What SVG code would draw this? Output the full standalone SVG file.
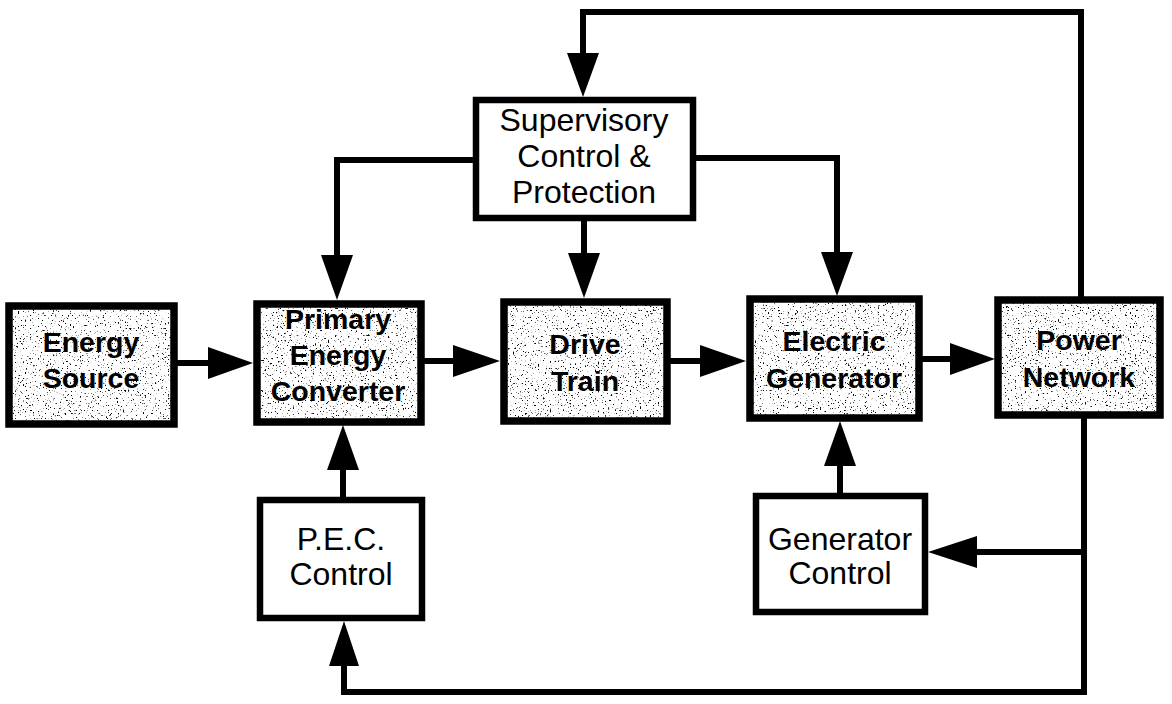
<svg xmlns="http://www.w3.org/2000/svg" width="1172" height="704" viewBox="0 0 1172 704">
  <style>
    .box { fill: #ffffff; stroke: #000; stroke-width: 6.5; }
    .shaded { stroke: #000; stroke-width: 7.5; fill: none; }
    .tex { fill: #ffffff; filter: url(#speckle); }
    .lbl { font-family: "Liberation Sans", Arial, sans-serif; font-size: 32px; fill: #000; text-anchor: middle; }
    .lblb { font-family: "Liberation Sans", Arial, sans-serif; font-size: 28.5px; font-weight: bold; fill: #000; text-anchor: middle; }
    .wire { fill: none; stroke: #000; stroke-width: 6; stroke-linejoin: miter; stroke-linecap: square; }
    .head { fill: #000; stroke: none; }
  </style>
  <defs>
    <filter id="speckle" x="0" y="0" width="100%" height="100%" color-interpolation-filters="sRGB">
      <feTurbulence type="fractalNoise" baseFrequency="0.6" numOctaves="2" seed="7" result="n"/>
      <feColorMatrix in="n" type="matrix" values="0 0 0 0 0  0 0 0 0 0  0 0 0 0 0  10 0 0 0 -6.4" result="dots"/>
      <feFlood flood-color="#ffffff" result="w"/>
      <feComposite in="dots" in2="w" operator="over" result="mix"/>
      <feComposite in="mix" in2="SourceGraphic" operator="in"/>
    </filter>
  </defs>
  <rect width="1172" height="704" fill="#ffffff"/>

  <g id="connectors">
    <!-- Energy Source -> PEC -->
    <line class="wire" x1="178" y1="363" x2="210" y2="363"/>
    <polygon class="head" points="208,347 253,363 208,379"/>
    <!-- PEC -> Drive Train -->
    <line class="wire" x1="425" y1="361" x2="455" y2="361"/>
    <polygon class="head" points="453,345 500,361 453,377"/>
    <!-- Drive Train -> Electric Generator -->
    <line class="wire" x1="670" y1="361" x2="702" y2="361"/>
    <polygon class="head" points="700,345 746,361 700,377"/>
    <!-- Electric Generator -> Power Network -->
    <line class="wire" x1="922" y1="359" x2="952" y2="359"/>
    <polygon class="head" points="950,343 995,359 950,375"/>
    <!-- Supervisory -> PEC -->
    <polyline class="wire" points="473,160 337,160 337,257"/>
    <polygon class="head" points="321,255 337,300 353,255"/>
    <!-- Supervisory -> Drive Train -->
    <line class="wire" x1="584" y1="221" x2="584" y2="255"/>
    <polygon class="head" points="568,253 584,298 600,253"/>
    <!-- Supervisory -> Electric Generator -->
    <polyline class="wire" points="696,158 837,158 837,254"/>
    <polygon class="head" points="821,252 837,296 853,252"/>
    <!-- Power Network -> Supervisory (top feedback) -->
    <polyline class="wire" points="1081,296 1081,12 583,12 583,55"/>
    <polygon class="head" points="567,53 583,97 599,53"/>
    <!-- Power Network -> PEC Control (bottom feedback) -->
    <polyline class="wire" points="1084,418 1084,692 344,692 344,666"/>
    <polygon class="head" points="329,666 344,621 359,666"/>
    <!-- Branch -> Generator Control -->
    <line class="wire" x1="1084" y1="552" x2="975" y2="552"/>
    <polygon class="head" points="977,536 928,552 977,568"/>
    <!-- Generator Control -> Electric Generator -->
    <line class="wire" x1="840" y1="493" x2="840" y2="464"/>
    <polygon class="head" points="824,466 840,421 856,466"/>
    <!-- PEC Control -> PEC -->
    <line class="wire" x1="343" y1="497" x2="343" y2="468"/>
    <polygon class="head" points="327,470 343,425 359,470"/>
  </g>

  <g id="energy-source">
    <rect class="tex" x="9" y="306" width="165" height="118"/>
    <rect class="shaded" x="9" y="306" width="165" height="118"/>
    <text class="lblb" x="91" y="352">Energy</text>
    <text class="lblb" x="91" y="388">Source</text>
  </g>

  <g id="primary-energy-converter">
    <rect class="tex" x="257" y="304" width="164" height="118"/>
    <rect class="shaded" x="257" y="304" width="164" height="118"/>
    <text class="lblb" x="338" y="329">Primary</text>
    <text class="lblb" x="338" y="365">Energy</text>
    <text class="lblb" x="338" y="401">Converter</text>
  </g>

  <g id="drive-train">
    <rect class="tex" x="504" y="302" width="163" height="119"/>
    <rect class="shaded" x="504" y="302" width="163" height="119"/>
    <text class="lblb" x="585" y="354">Drive</text>
    <text class="lblb" x="585" y="391">Train</text>
  </g>

  <g id="electric-generator">
    <rect class="tex" x="750" y="299" width="169" height="119"/>
    <rect class="shaded" x="750" y="299" width="169" height="119"/>
    <text class="lblb" x="834" y="351">Electric</text>
    <text class="lblb" x="834" y="388">Generator</text>
  </g>

  <g id="power-network">
    <rect class="tex" x="998" y="300" width="162" height="115"/>
    <rect class="shaded" x="998" y="300" width="162" height="115"/>
    <text class="lblb" x="1079" y="350">Power</text>
    <text class="lblb" x="1079" y="387">Network</text>
  </g>

  <g id="supervisory-control">
    <rect class="box" x="476" y="100" width="217" height="118"/>
    <text class="lbl" x="584" y="131">Supervisory</text>
    <text class="lbl" x="584" y="167">Control &amp;</text>
    <text class="lbl" x="584" y="203">Protection</text>
  </g>

  <g id="pec-control">
    <rect class="box" x="260" y="500" width="162" height="118"/>
    <text class="lbl" x="341" y="550">P.E.C.</text>
    <text class="lbl" x="341" y="585">Control</text>
  </g>

  <g id="generator-control">
    <rect class="box" x="756" y="496" width="169" height="116"/>
    <text class="lbl" x="840" y="550">Generator</text>
    <text class="lbl" x="840" y="584">Control</text>
  </g>
</svg>
